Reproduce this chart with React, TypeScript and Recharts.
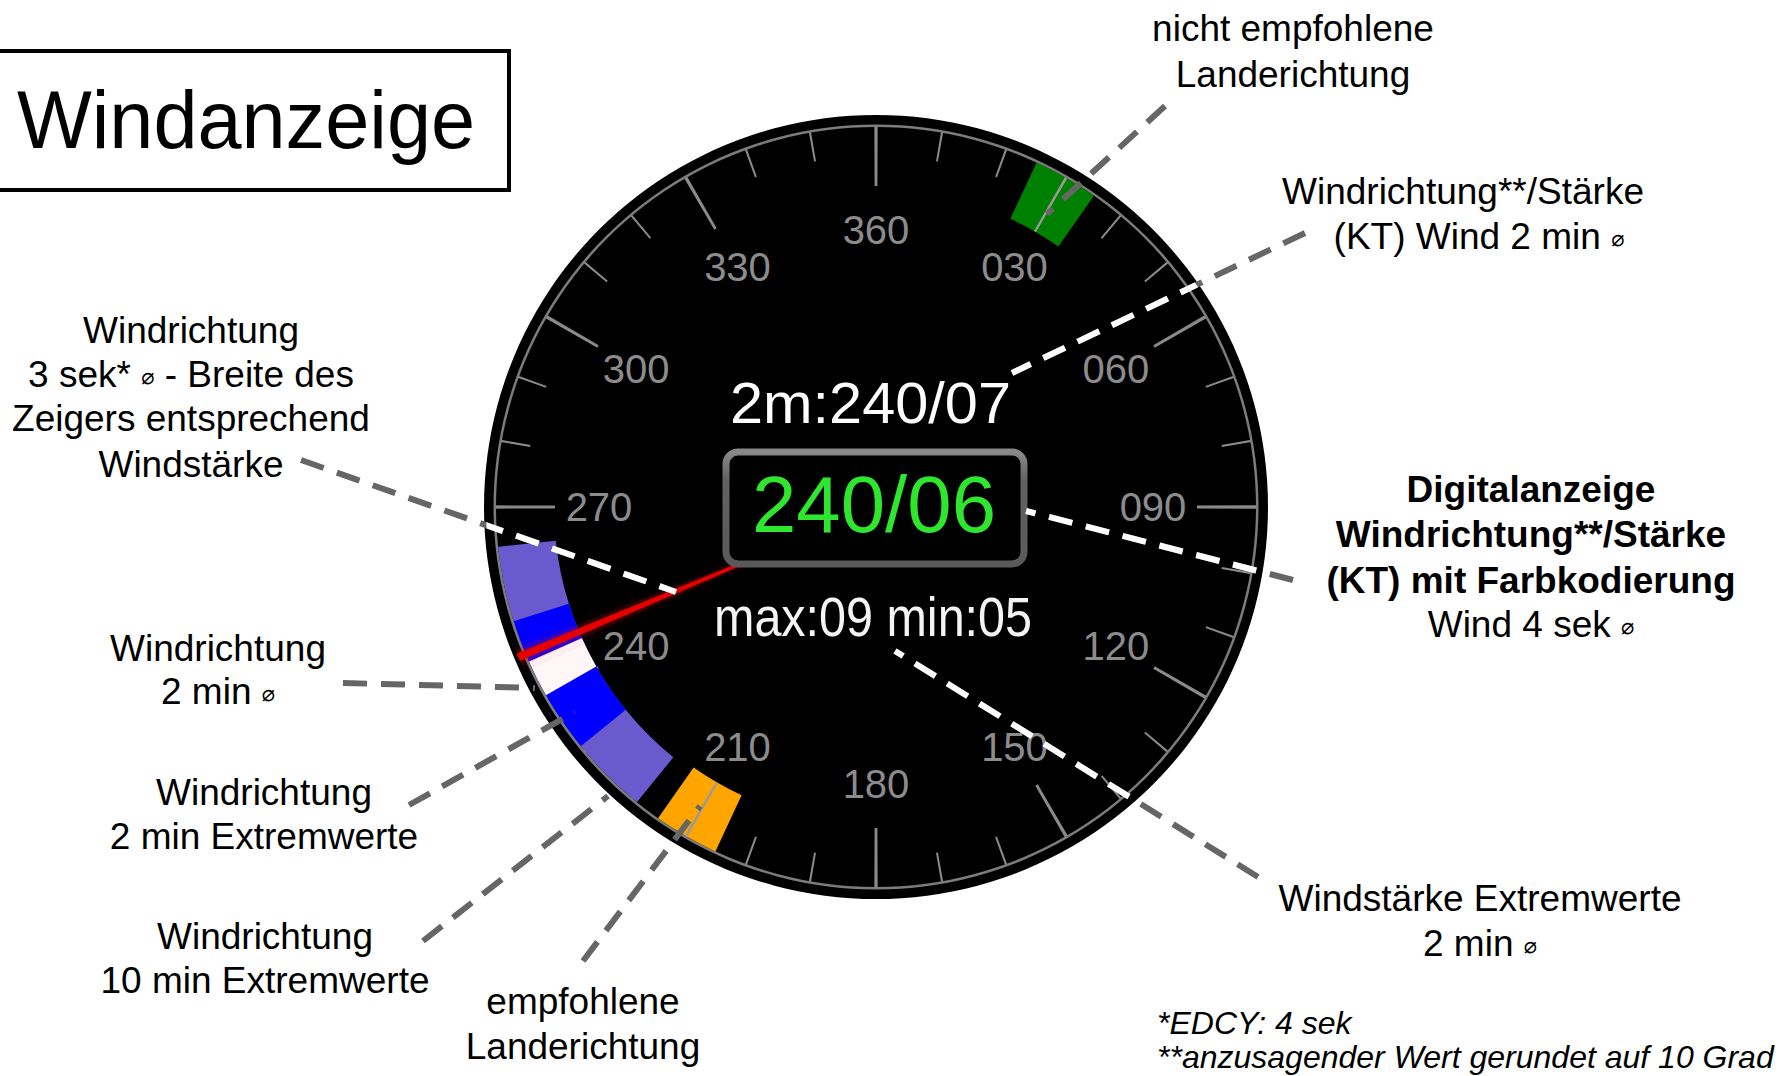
import React from 'react';
import { PieChart, Pie, Cell } from 'recharts';

// Wind display ("Windanzeige") – dial drawn with Recharts pies, annotations as overlay

const W = 1782;
const H = 1076;
const CX = 876;
const CY = 507;
const FONT = '"Liberation Sans", Arial, sans-serif';

// compass directions in degrees, clockwise from north
const MAJOR_TICKS = [0, 30, 60, 90, 120, 150, 180, 210, 240, 270, 300, 330];
const MINOR_TICKS = [10, 20, 40, 50, 70, 80, 100, 110, 130, 140, 160, 170, 190, 200, 220, 230, 250, 260, 280, 290, 310, 320, 340, 350];
const DIAL_LABELS = ['360', '030', '060', '090', '120', '150', '180', '210', '240', '270', '300', '330'];

const DIR_10MIN_EXTREMES = [219, 264];
const DIR_2MIN_EXTREMES = [231, 252.5];
const DIR_2MIN_AVG = [240.3, 246];
const DIR_3SEC = 247.2;
const RUNWAY_RECOMMENDED = [205, 215];
const RUNWAY_NOT_RECOMMENDED = [25, 35];
const RUNWAY_CENTERLINES = [30, 210];

const WIND_2MIN = '2m:240/07';
const WIND_4SEC = '240/06';
const WIND_EXTREMES = 'max:09 min:05';

type Span = { from: number; to: number; fill: string; opacity?: number };
type Slice = { value: number; fill: string; opacity: number };

// turn angular spans into pie slices (gaps are transparent)
function toSlices(spans: Span[]): Slice[] {
  const parts: Span[] = [];
  spans.forEach((s) => {
    if (s.from < 0) {
      parts.push({ ...s, from: s.from + 360, to: 360 });
      parts.push({ ...s, from: 0 });
    } else parts.push(s);
  });
  parts.sort((a, b) => a.from - b.from);
  const out: Slice[] = [];
  let cur = 0;
  parts.forEach((p) => {
    if (p.from > cur) out.push({ value: p.from - cur, fill: 'none', opacity: 0 });
    out.push({ value: p.to - p.from, fill: p.fill, opacity: p.opacity ?? 1 });
    cur = p.to;
  });
  if (cur < 360) out.push({ value: 360 - cur, fill: 'none', opacity: 0 });
  return out;
}

const tickSpans = (angles: number[], width: number, fill: string, opacity = 1): Span[] =>
  angles.map((a) => ({ from: a - width / 2, to: a + width / 2, fill, opacity }));

function ring(key: string, data: Slice[], inner: number, outer: number) {
  return (
    <Pie
      key={key}
      data={data}
      dataKey="value"
      cx={CX}
      cy={CY}
      innerRadius={inner}
      outerRadius={outer}
      startAngle={90}
      endAngle={-270}
      stroke="none"
      isAnimationActive={false}
    >
      {data.map((d, i) => (
        <Cell key={i} fill={d.fill} fillOpacity={d.opacity} />
      ))}
    </Pie>
  );
}

const RAD = Math.PI / 180;
const renderDialLabel = (props: any) => {
  const { cx, cy, midAngle, index } = props;
  const r = 277;
  const x = cx + r * Math.cos(-midAngle * RAD);
  const y = cy + r * Math.sin(-midAngle * RAD);
  return (
    <text key={index} x={x} y={y + 14} textAnchor="middle" fill="#8c8c8c" fontSize={40} fontFamily={FONT}>
      {DIAL_LABELS[index]}
    </text>
  );
};

const Dia = ({ size = 22 }: { size?: number }) => (
  <tspan fontSize={size} fontFamily="DejaVu Sans" dy={-3}>⌀</tspan>
);

// leader lines of the annotations
const LEADERS = [
  { x1: 1165, y1: 106, x2: 1047, y2: 214, white: false },
  { x1: 1305, y1: 233, x2: 1012, y2: 373, white: true },
  { x1: 1293, y1: 580, x2: 1026, y2: 511, white: true },
  { x1: 1258, y1: 877, x2: 895, y2: 651, white: true },
  { x1: 301, y1: 460, x2: 676, y2: 592, white: true },
  { x1: 343, y1: 683, x2: 535, y2: 688, white: false },
  { x1: 409, y1: 805, x2: 575, y2: 712, white: false },
  { x1: 423, y1: 941, x2: 608, y2: 796, white: false },
  { x1: 583, y1: 961, x2: 700, y2: 806, white: false },
];

const Overlay = () => (
  <svg width={W} height={H} style={{ position: 'absolute', left: 0, top: 0 }} fontFamily={FONT}>
    <defs>
      <clipPath id="dial">
        <circle cx={CX} cy={CY} r={390} />
      </clipPath>
      <linearGradient id="boxEdge" x1="0" y1="0" x2="0" y2="1">
        <stop offset="0" stopColor="#8a8a8a" />
        <stop offset="0.25" stopColor="#616161" />
        <stop offset="1" stopColor="#5a5a5a" />
      </linearGradient>
    </defs>

    {/* title */}
    <rect x={-4} y={51} width={513} height={139} fill="#fff" stroke="#000" strokeWidth={4} />
    <text x={17} y={148} fontSize={81} textLength={458} lengthAdjust="spacingAndGlyphs" fill="#000">
      Windanzeige
    </text>

    {/* digital readouts in the dial */}
    <text x={730} y={423} fontSize={58} textLength={281} lengthAdjust="spacingAndGlyphs" fill="#fff">
      {WIND_2MIN}
    </text>
    <rect x={726} y={452} width={298} height={112} rx={12} fill="#000" stroke="url(#boxEdge)" strokeWidth={7} />
    <text x={752} y={532} fontSize={80} textLength={244} lengthAdjust="spacingAndGlyphs" fill="#2ee62e">
      {WIND_4SEC}
    </text>
    <text x={714} y={636} fontSize={56} textLength={318} lengthAdjust="spacingAndGlyphs" fill="#f4f4f4">
      {WIND_EXTREMES}
    </text>

    {/* leader lines: grey outside, white inside the dial */}
    {LEADERS.map((l, i) => (
      <line key={'g' + i} x1={l.x1} y1={l.y1} x2={l.x2} y2={l.y2} stroke="#666" strokeWidth={6} strokeDasharray="24 14" />
    ))}
    <g clipPath="url(#dial)">
      {LEADERS.filter((l) => l.white).map((l, i) => (
        <line key={'w' + i} x1={l.x1} y1={l.y1} x2={l.x2} y2={l.y2} stroke="#fff" strokeWidth={6} strokeDasharray="24 14" />
      ))}
    </g>

    {/* annotations */}
    <g fontSize={37} fill="#000" textAnchor="middle">
      <text x={1293} y={41}>nicht empfohlene</text>
      <text x={1293} y={87}>Landerichtung</text>

      <text x={1463} y={204}>Windrichtung**/Stärke</text>
      <text x={1479} y={249}>(KT) Wind 2 min <Dia /></text>

      <text x={191} y={343}>Windrichtung</text>
      <text x={191} y={387}>3 sek* <Dia /><tspan dy={3}> - Breite des</tspan></text>
      <text x={191} y={431}>Zeigers entsprechend</text>
      <text x={191} y={477}>Windstärke</text>

      <text x={218} y={661}>Windrichtung</text>
      <text x={218} y={704}>2 min <Dia /></text>

      <text x={264} y={805}>Windrichtung</text>
      <text x={264} y={849}>2 min Extremwerte</text>

      <text x={265} y={949}>Windrichtung</text>
      <text x={265} y={993}>10 min Extremwerte</text>

      <text x={583} y={1014}>empfohlene</text>
      <text x={583} y={1059}>Landerichtung</text>

      <g fontWeight="bold">
        <text x={1531} y={502}>Digitalanzeige</text>
        <text x={1531} y={547}>Windrichtung**/Stärke</text>
        <text x={1531} y={593}>(KT) mit Farbkodierung</text>
      </g>
      <text x={1531} y={637}>Wind 4 sek <Dia /></text>

      <text x={1480} y={911}>Windstärke Extremwerte</text>
      <text x={1480} y={956}>2 min <Dia /></text>
    </g>
    <g fontSize={32} fontStyle="italic" fill="#000">
      <text x={1157} y={1034}>*EDCY: 4 sek</text>
      <text x={1157} y={1068}>**anzusagender Wert gerundet auf 10 Grad</text>
    </g>
  </svg>
);

export default function App() {
  const disc = toSlices([{ from: 0, to: 360, fill: '#000' }]);
  const ringLine = toSlices([{ from: 0, to: 360, fill: '#7c7c7c' }]);
  const majors = toSlices(tickSpans(MAJOR_TICKS, 0.5, '#8a8a8a'));
  const minors = toSlices(tickSpans(MINOR_TICKS, 0.32, '#8a8a8a'));
  const dir10 = toSlices([{ from: DIR_10MIN_EXTREMES[0], to: DIR_10MIN_EXTREMES[1], fill: '#6a5acd' }]);
  const dir2 = toSlices([{ from: DIR_2MIN_EXTREMES[0], to: DIR_2MIN_EXTREMES[1], fill: '#0000ff' }]);
  const dirAvg = toSlices([{ from: DIR_2MIN_AVG[0], to: DIR_2MIN_AVG[1], fill: '#fff6f8' }]);
  const glowOuter = toSlices([{ from: DIR_3SEC - 2.4, to: DIR_3SEC + 2.4, fill: '#c00000', opacity: 0.18 }]);
  const glow = toSlices([{ from: DIR_3SEC - 1.3, to: DIR_3SEC + 1.3, fill: '#e00000', opacity: 0.45 }]);
  const needle = toSlices([{ from: DIR_3SEC - 0.6, to: DIR_3SEC + 0.6, fill: '#e60000' }]);
  const runways = toSlices([
    { from: RUNWAY_RECOMMENDED[0], to: RUNWAY_RECOMMENDED[1], fill: '#ffa500' },
    { from: RUNWAY_NOT_RECOMMENDED[0], to: RUNWAY_NOT_RECOMMENDED[1], fill: '#008000' },
  ]);
  const centerlines = toSlices(tickSpans(RUNWAY_CENTERLINES, 0.4, '#9a9a9a'));
  const labelData = DIAL_LABELS.map((name) => ({ name, value: 30 }));

  return (
    <div style={{ position: 'absolute', left: 0, top: 0, width: W, height: H, background: '#fff', overflow: 'hidden' }}>
      <PieChart width={W} height={H} margin={{ top: 0, right: 0, bottom: 0, left: 0 }}>
        {ring('disc', disc, 0, 392)}
        {ring('minor', minors, 351, 381)}
        {ring('major', majors, 321, 381)}
        {ring('dir10', dir10, 322, 380)}
        {ring('dir2', dir2, 322, 380)}
        {ring('avg', dirAvg, 322, 380)}
        {ring('ring', ringLine, 380, 382.5)}
        {ring('glowOuter', glowOuter, 0, 388)}
        {ring('glow', glow, 0, 388)}
        {ring('needle', needle, 0, 388)}
        {ring('runways', runways, 318, 380)}
        {ring('centerlines', centerlines, 318, 380)}
        <Pie
          data={labelData}
          dataKey="value"
          cx={CX}
          cy={CY}
          innerRadius={0}
          outerRadius={300}
          startAngle={105}
          endAngle={-255}
          fill="none"
          stroke="none"
          labelLine={false}
          label={renderDialLabel}
          isAnimationActive={false}
        />
      </PieChart>
      <Overlay />
    </div>
  );
}
